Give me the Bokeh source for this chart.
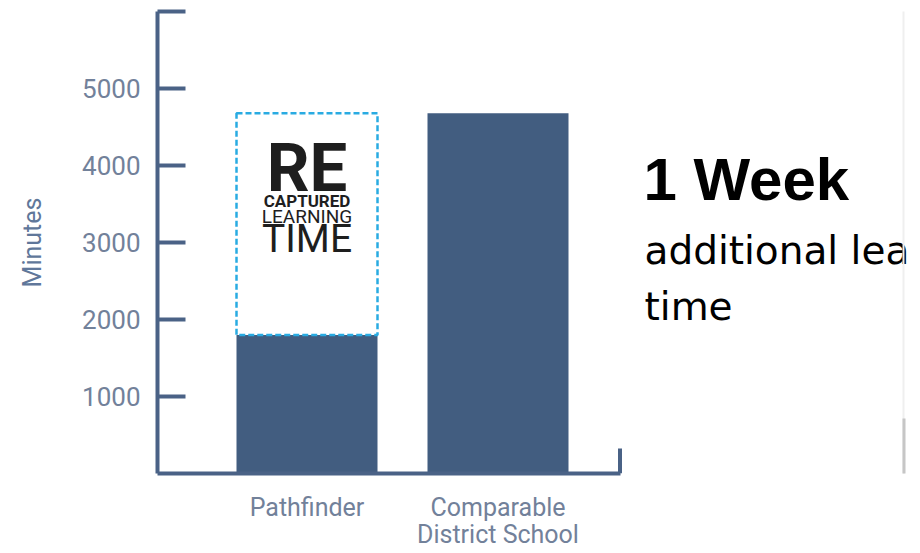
from bokeh.plotting import figure
from bokeh.models import (Range1d, FixedTicker, LinearAxis, Label, BoxAnnotation,
                          ColumnDataSource)
from bokeh.embed import file_html
from bokeh.resources import INLINE

# --- data -------------------------------------------------------------
schools = ["Pathfinder", "Comparable\nDistrict School"]
minutes = [1800, 4680]          # annual minutes of learning time
recaptured_top = 4680           # Pathfinder target including recaptured time
y_ticks = [1000, 2000, 3000, 4000, 5000, 6000]
y_tick_labels = ["1000", "2000", "3000", "4000", "5000", ""]
headline = "1 Week"
subline = ["additional lea", "time"]

# --- layout (pixels) --------------------------------------------------
W, H = 920, 553
LEFT, TOP, BOTTOM = 157, 11, 80
STEP = 191.0          # pixels between bar centres
BAR_PX = 141.0
FIRST_CENTER = 306.5  # pixel x of first bar centre
AXIS_END = 620.0

def px_to_x(px):
    return 1 + (px - FIRST_CENTER) / STEP

positions = [1, 2]
bar_w = BAR_PX / STEP

AXIS_COLOR = "#4a6286"
BAR_COLOR = "#425d80"
LABEL_COLOR = "#72819a"
DASH_COLOR = "#29abe2"

p = figure(width=W, height=H, output_backend="svg", toolbar_location=None,
           x_range=Range1d(px_to_x(LEFT), px_to_x(W)),
           y_range=Range1d(0, 6000),
           x_axis_type=None, y_axis_type=None,
           min_border_left=LEFT, min_border_top=TOP,
           min_border_bottom=BOTTOM, min_border_right=0)
p.outline_line_color = None
p.grid.visible = False
p.background_fill_color = "white"
p.border_fill_color = "white"

# y axis: inward ticks, labels to the left
yax = LinearAxis(ticker=FixedTicker(ticks=y_ticks),
                 major_label_overrides={t: l for t, l in zip(y_ticks, y_tick_labels)},
                 axis_label="Minutes")
yax.axis_line_color = AXIS_COLOR
yax.axis_line_width = 4
yax.major_tick_line_color = AXIS_COLOR
yax.major_tick_line_width = 4
yax.major_tick_in = 28
yax.major_tick_out = 0
yax.minor_tick_line_color = None
yax.major_label_standoff = 17
yax.major_label_text_font = "Roboto"
yax.major_label_text_font_size = "26px"
yax.major_label_text_color = LABEL_COLOR
yax.axis_label_text_font = "Roboto"
yax.axis_label_text_font_style = "normal"
yax.axis_label_text_font_size = "25px"
yax.axis_label_text_color = "#60779a"
yax.axis_label_standoff = 32
p.add_layout(yax, "left")

# x axis: category names below the bars, line stops short of the right text
xax = LinearAxis(ticker=FixedTicker(ticks=positions),
                 major_label_overrides={pos: s for pos, s in zip(positions, schools)},
                 bounds=(px_to_x(LEFT), px_to_x(AXIS_END)))
xax.axis_line_color = AXIS_COLOR
xax.axis_line_width = 4
xax.major_tick_line_color = None
xax.minor_tick_line_color = None
xax.major_label_standoff = 13
xax.major_label_text_font = "Roboto"
xax.major_label_text_font_size = "25px"
xax.major_label_text_line_height = 0.96
xax.major_label_text_color = LABEL_COLOR
p.add_layout(xax, "below")

# small upturned end of the x axis
p.segment(x0=[px_to_x(AXIS_END - 0.5)], y0=[0], x1=[px_to_x(AXIS_END - 0.5)], y1=[325],
          line_color=AXIS_COLOR, line_width=4)

# bars
src = ColumnDataSource(dict(x=positions, top=minutes))
p.vbar(x="x", top="top", bottom=0, width=bar_w, source=src,
       fill_color=BAR_COLOR, line_color=None)

# dashed outline of the recaptured time above the Pathfinder bar
p.quad(left=[positions[0] - bar_w / 2], right=[positions[0] + bar_w / 2],
       bottom=[minutes[0]], top=[recaptured_top],
       fill_color=None, line_color=DASH_COLOR, line_width=2.5, line_dash="6 3")

# "RE CAPTURED LEARNING TIME" badge inside the dashed box
badge = [("RE", "bold", "67px", -55),
         ("CAPTURED", "bold", "17px", -88),
         ("LEARNING", "normal", "19px", -103),
         ("TIME", "normal", "39px", -126)]
for txt, style, size, off in badge:
    p.add_layout(Label(x=positions[0], y=recaptured_top, y_offset=off, text=txt,
                       text_align="center", text_baseline="alphabetic",
                       text_font="Roboto", text_font_style=style,
                       text_font_size=size, text_color="#1e1e1e"))

# headline text on the right (screen y measured up from the frame bottom)
frame_bottom = H - BOTTOM
p.add_layout(Label(x=643 - LEFT, y=294, x_units="screen", y_units="screen",
                   text=headline, text_font="Liberation Sans", text_font_style="bold",
                   text_font_size="60px", text_color="black", text_baseline="alphabetic"))
for txt, ys in zip(subline, [223, 167]):
    p.add_layout(Label(x=644 - LEFT, y=ys, x_units="screen", y_units="screen",
                       text=txt, text_font="DejaVu Sans", text_font_size="39px",
                       text_color="black", text_baseline="alphabetic"))

# thin slide divider at the right edge
p.add_layout(BoxAnnotation(left=902 - LEFT, right=904 - LEFT, bottom=-BOTTOM, top=frame_bottom,
                           left_units="screen", right_units="screen",
                           bottom_units="screen", top_units="screen",
                           fill_color="#efefef", fill_alpha=1, line_color=None))
p.add_layout(BoxAnnotation(left=902 - LEFT, right=905 - LEFT, bottom=frame_bottom - 482,
                           top=frame_bottom - 418,
                           left_units="screen", right_units="screen",
                           bottom_units="screen", top_units="screen",
                           fill_color="#c6c6c6", fill_alpha=1, line_color=None))

open("out.html", "w").write(file_html(p, INLINE))
